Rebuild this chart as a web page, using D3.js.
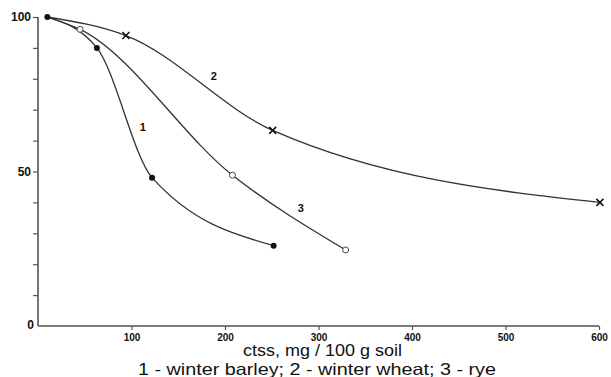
<!DOCTYPE html>
<html><head><meta charset="utf-8">
<script src="https://cdn.jsdelivr.net/npm/d3@7"></script>
<style>body{margin:0;background:#fff}svg{display:block}</style>
</head><body>
<svg id="c" width="611" height="377"></svg>
<script>
const barleyX = [10, 63, 122, 252];
const barleyY = [100, 90, 48, 26];
const wheatX = [10, 94, 251, 601];
const wheatY = [100, 94, 63.3, 40];
const ryeX = [10, 45, 208, 329];
const ryeY = [100, 96, 48.8, 24.6];
const xTicks = [100, 200, 300, 400, 500, 600];
const yTickLabels = [0, 50, 100];
const yTicks = d3.range(0, 101, 10);
const xTitle = "ctss, mg / 100 g soil";
const legendText = "1 - winter barley; 2 - winter wheat; 3 - rye";
const seriesLabels = ["1", "2", "3"];

const svg = d3.select("#c");
const x = d3.scaleLinear().domain([0, 600]).range([38, 599]);
const y = d3.scaleLinear().domain([0, 100]).range([326, 17]);
const axisCol = "#555";
const lineCol = "#333";
const font = "Arial, Liberation Sans, sans-serif";

// axes
const xa = svg.append("g").attr("transform", "translate(0,326)")
  .call(d3.axisBottom(x).tickValues(xTicks).tickSize(4).tickPadding(4).tickFormat(d3.format("d")));
xa.select(".domain").attr("stroke", axisCol).attr("stroke-width", 1.6).attr("d", "M38,0H599");
xa.selectAll(".tick line").attr("stroke", axisCol).attr("stroke-width", 1.2);
xa.selectAll(".tick text").attr("font-family", font)
  .attr("font-weight", "bold").attr("font-size", 10).attr("fill", "#111");

const ya = svg.append("g").attr("transform", "translate(38,0)")
  .call(d3.axisLeft(y).tickValues(yTicks).tickSize(5).tickPadding(2)
    .tickFormat(d => yTickLabels.includes(d) ? d : ""));
ya.select(".domain").attr("stroke", axisCol).attr("stroke-width", 1.6).attr("d", "M0,326V17");
ya.selectAll(".tick line").attr("stroke", axisCol).attr("stroke-width", 1.2);
ya.selectAll(".tick text").attr("font-family", font)
  .attr("font-weight", "bold").attr("font-size", 12).attr("fill", "#111");
ya.selectAll(".tick").filter(d => d === 0).select("line").remove();
ya.selectAll(".tick").filter(d => d === 0).select("text").attr("x", -4).attr("dy", "0.2em");

// lines
const line = d3.line().x(d => x(d[0])).y(d => y(d[1])).curve(d3.curveMonotoneX);
const series = [
  {xs: barleyX, ys: barleyY, m: "dot"},
  {xs: wheatX, ys: wheatY, m: "x"},
  {xs: ryeX, ys: ryeY, m: "open"}
];
series.forEach(s => {
  const pts = s.xs.map((v, i) => [v, s.ys[i]]);
  svg.append("path").attr("d", line(pts)).attr("fill", "none")
    .attr("stroke", lineCol).attr("stroke-width", 1.3);
});
series.forEach(s => {
  const pts = s.xs.map((v, i) => [v, s.ys[i]]);
  pts.forEach((p, i) => {
    const cx = x(p[0]), cy = y(p[1]);
    if (s.m === "dot") {
      svg.append("circle").attr("cx", cx).attr("cy", cy).attr("r", 3).attr("fill", "#111");
    } else if (i === 0) {
      return;
    } else if (s.m === "open") {
      svg.append("circle").attr("cx", cx).attr("cy", cy).attr("r", 3)
        .attr("fill", "#fff").attr("stroke", "#444").attr("stroke-width", 1);
    } else if (s.m === "x") {
      svg.append("path").attr("d", `M${cx-3.5},${cy-3.5}L${cx+3.5},${cy+3.5}M${cx-3.5},${cy+3.5}L${cx+3.5},${cy-3.5}`)
        .attr("stroke", "#111").attr("stroke-width", 1.5);
    }
  });
});

// series labels
const labelPos = [[112, 63], [188, 79.5], [281, 37]];
seriesLabels.forEach((t, i) => {
  svg.append("text").attr("x", x(labelPos[i][0])).attr("y", y(labelPos[i][1]))
    .attr("font-family", font).attr("font-weight", "bold")
    .attr("font-size", 11).attr("fill", "#111").attr("text-anchor", "middle").text(t);
});

// titles
svg.append("text").attr("x", 243).attr("y", 356)
  .attr("textLength", 159).attr("lengthAdjust", "spacingAndGlyphs")
  .attr("font-family", font).attr("font-size", 16).attr("fill", "#111").text(xTitle);
svg.append("text").attr("x", 138).attr("y", 375)
  .attr("textLength", 358).attr("lengthAdjust", "spacingAndGlyphs")
  .attr("font-family", font).attr("font-size", 16.5).attr("fill", "#111").text(legendText);
</script>
</body></html>
